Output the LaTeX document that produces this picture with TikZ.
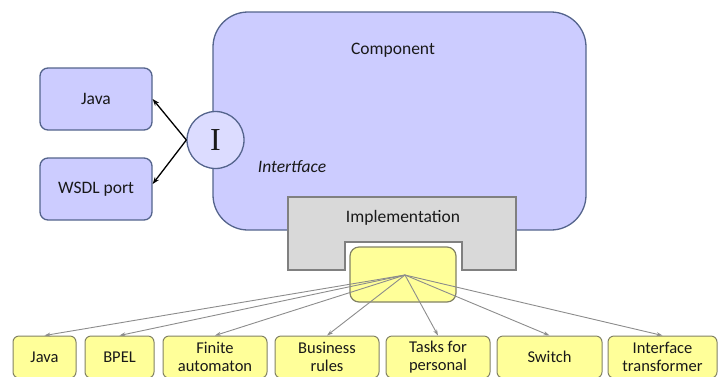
\documentclass[tikz,border=0pt]{standalone}
\usepackage{fontspec}
\setmainfont{Carlito}
\newfontfamily\ifacefont{Liberation Serif}
\usepackage{tikz}
\usetikzlibrary{arrows.meta}

\definecolor{compblue}{RGB}{204,204,255}
\definecolor{ifaceblue}{RGB}{220,220,255}
\definecolor{compedge}{RGB}{84,100,140}
\definecolor{implgray}{RGB}{217,217,217}
\definecolor{impledge}{RGB}{128,128,128}
\definecolor{langyellow}{RGB}{255,255,153}
\definecolor{langedge}{RGB}{130,130,100}
\definecolor{wiregray}{RGB}{140,140,140}

\begin{document}
\begin{tikzpicture}[x=1pt, y=-1pt,
		every node/.style={font=\fontsize{17.5}{21}\selectfont, text=black!90},
		bluebox/.style={draw=compedge, fill=compblue, line width=1.3pt, rounded corners=8pt},
		langbox/.style={draw=langedge, fill=langyellow, line width=1pt, rounded corners=6pt, align=center,
			minimum height=42, inner sep=0pt, font=\fontsize{16.5}{17.5}\selectfont},
		wire/.style={wiregray, line width=0.9pt, -{Stealth[length=6pt,width=4pt]}},
		link/.style={black, line width=1.3pt, -{Stealth[length=7pt,width=5pt]}}
	]
		\useasboundingbox (0,0) rectangle (719,376);
		
		\coordinate (hub) at (405,275);
		
		\node[bluebox, minimum width=373, minimum height=218, rounded corners=35pt] (comp) at (399.5,121) {};
		\node (comptext) at (393,50) {Component};
		\node[font=\fontsize{17.5}{21}\selectfont\itshape] (ifacetext) at (292,167) {Intertface};
		
		\node[bluebox, minimum width=112, minimum height=62] (java) at (96,99) {Java};
		\node[bluebox, minimum width=112, minimum height=62] (wsdl) at (96,189) {WSDL port};
		
		\node[circle, draw=compedge, fill=ifaceblue, line width=1.3pt, minimum size=57, inner sep=0pt,
			font=\ifacefont\fontsize{32}{32}\selectfont] (iface) at (215.5,140) {I};
		
		\draw[link] (iface.west) -- (java.east);
		\draw[link] (iface.west) -- ([yshift=5pt]wsdl.east);
		
		\draw[draw=impledge, fill=implgray, line width=1.2pt]
			(288,197) -- (516,197) -- (516,270) -- (462,270) -- (462,242)
			-- (345,242) -- (345,270) -- (288,270) -- cycle;
		\node (impl) at (403,218) {Implementation};
		
		\node[draw=langedge, fill=langyellow, line width=1.2pt, rounded corners=9pt,
			minimum width=106, minimum height=55] (impbox) at (403,274.5) {};
		
		\foreach \x/\w/\name/\txt in {
			44.5/63/ljava/Java,
			119.5/69/bpel/BPEL,
			215/104/fsm/Finite\\automaton,
			327/104/rules/Business\\rules,
			438/104/tasks/Tasks for\\personal,
			549.5/105/switch/Switch,
			662.5/109/transf/Interface\\transformer
		}{
			\node[langbox, minimum width=\w] (\name) at (\x,357) {\txt};
			\draw[wire] (hub) -- (\name.north);
		}
	\end{tikzpicture}
\end{document}
